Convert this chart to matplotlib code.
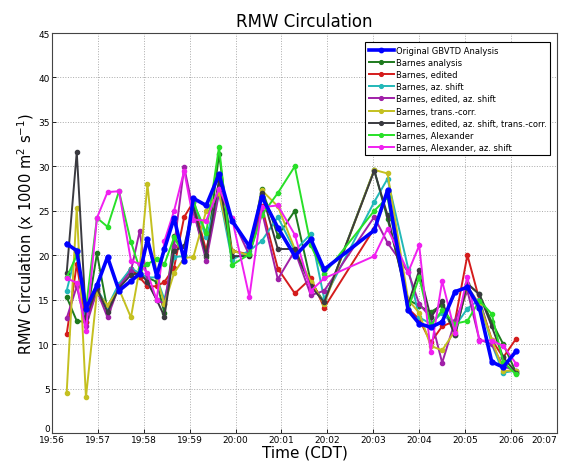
import matplotlib
matplotlib.use("Agg")
import matplotlib.pyplot as plt

# minutes after 19:56 CDT
times = [0.32, 0.54, 0.74, 0.98, 1.21, 1.46, 1.72, 1.91, 2.08, 2.28, 2.45, 2.66,
         2.88, 3.08, 3.36, 3.64, 3.92, 4.30, 4.57, 4.92, 5.29, 5.64, 5.93, 7.02,
         7.31, 7.76, 8.00, 8.25, 8.50, 8.78, 9.05, 9.31, 9.58, 9.83, 10.11]

original = [21.3, 20.5, 14.0, 16.6, 19.8, 16.0, 17.1, 17.9, 21.8, 17.7, 20.7, 24.2,
            19.4, 26.4, 25.6, 29.1, 23.9, 21.0, 26.6, 23.1, 19.9, 21.8, 18.4, 22.8,
            27.3, 13.8, 12.3, 11.9, 12.5, 15.9, 16.4, 14.1, 8.0, 7.4, 9.2]
barnes = [15.3, 12.6, 12.5, 20.2, 13.8, 16.5, 18.5, 17.5, 17.5, 17.0, 13.5, 22.2,
          20.0, 25.0, 19.8, 31.4, 20.5, 20.0, 27.5, 22.2, 25.0, 17.0, 14.7, 29.6,
          24.1, 15.0, 14.3, 13.6, 14.4, 11.0, 16.8, 15.6, 12.5, 10.0, 6.8]
edited = [11.1, 19.0, 12.5, 16.0, 14.0, 16.5, 18.5, 17.5, 16.5, 16.5, 17.0, 18.6,
          24.3, 26.0, 20.5, 27.5, 20.5, 20.1, 25.5, 18.5, 15.7, 17.4, 14.1, 23.0,
          27.0, 14.0, 12.8, 10.2, 12.0, 12.6, 20.0, 15.0, 10.5, 8.5, 10.6]
az_shift = [16.0, 20.6, 13.5, 16.2, 14.2, 16.8, 18.5, 18.0, 17.5, 17.5, 15.0, 19.8,
            19.9, 26.0, 22.0, 27.0, 19.5, 20.5, 21.6, 24.3, 20.5, 22.4, 15.1, 26.0,
            28.6, 18.5, 13.0, 12.3, 13.5, 12.0, 14.0, 15.0, 10.0, 6.8, 7.0]
edited_az = [12.9, 16.5, 12.0, 16.0, 13.0, 16.5, 18.2, 22.7, 17.0, 15.0, 14.5, 21.0,
             29.9, 25.0, 19.4, 27.0, 24.2, 20.0, 25.0, 17.3, 20.5, 15.5, 16.0, 24.3,
             21.4, 18.1, 14.5, 13.0, 7.9, 12.6, 16.0, 10.5, 10.0, 7.5, 7.0]
trans_corr = [4.5, 25.3, 4.0, 15.8, 14.4, 16.2, 13.0, 18.5, 28.0, 17.5, 14.5, 18.0,
              19.7, 19.8, 25.0, 27.0, 20.5, 20.0, 27.3, 25.5, 20.7, 17.0, 14.5, 29.6,
              29.2, 15.0, 13.5, 9.8, 9.3, 11.5, 16.5, 14.5, 10.5, 7.0, 7.0]
edited_az_tc = [18.0, 31.6, 13.0, 16.3, 13.6, 16.3, 17.8, 18.0, 17.0, 15.0, 13.1, 20.5,
                21.0, 25.5, 20.0, 28.5, 19.9, 19.9, 27.0, 20.7, 20.7, 16.5, 14.7, 29.5,
                24.5, 14.5, 18.3, 13.0, 14.8, 11.0, 16.8, 15.6, 12.0, 8.5, 6.8]
alexander = [17.5, 20.0, 14.0, 24.2, 23.2, 27.2, 21.5, 18.5, 19.0, 19.6, 19.0, 22.0,
             20.0, 26.0, 22.5, 32.2, 18.9, 20.1, 24.5, 27.0, 30.0, 21.1, 17.9, 25.0,
             26.5, 14.0, 17.5, 12.1, 13.8, 12.3, 12.6, 14.9, 13.4, 8.0, 6.6]
alexander_az = [17.4, 16.9, 11.5, 24.2, 27.1, 27.2, 19.4, 19.0, 18.0, 15.0, 21.6, 25.0,
                29.5, 24.0, 23.9, 27.5, 24.2, 15.3, 25.4, 25.6, 22.3, 16.0, 17.4, 19.9,
                23.0, 18.1, 21.1, 9.1, 17.1, 11.3, 17.6, 10.4, 10.4, 9.8, 7.8]

tick_labels = ["19:56", "19:57", "19:58", "19:59", "20:00", "20:01", "20:02",
               "20:03", "20:04", "20:05", "20:06", "20:07"]

series = [
    ("Original GBVTD Analysis", original, "#0000ff"),
    ("Barnes analysis", barnes, "#1e7a1e"),
    ("Barnes, edited", edited, "#d41c1c"),
    ("Barnes, az. shift", az_shift, "#22b8b8"),
    ("Barnes, edited, az. shift", edited_az, "#a020a8"),
    ("Barnes, trans.-corr.", trans_corr, "#c4c020"),
    ("Barnes, edited, az. shift, trans.-corr.", edited_az_tc, "#3a3a40"),
    ("Barnes, Alexander", alexander, "#28e028"),
    ("Barnes, Alexander, az. shift", alexander_az, "#f020f0"),
]

fig = plt.figure(figsize=(5.68, 4.64), dpi=100)
ax = fig.add_axes([0.0915, 0.0647, 0.889, 0.862])

for i, (label, values, color) in enumerate(series):
    is_orig = i == 0
    ax.plot(times, values, color=color, marker="o",
            markersize=3.5 if is_orig else 3,
            linewidth=2.6 if is_orig else 1.4,
            label=label, zorder=10 if is_orig else 3 + i * 0.1)

ax.set_xlim(0, 11)
ax.set_ylim(0, 45)
ax.set_xticks(range(12))
ax.set_xticklabels(tick_labels)
ax.get_xticklabels()[-1].set_horizontalalignment("right")
ax.set_yticks(range(0, 46, 5))
ax.get_yticklabels()[0].set_verticalalignment("bottom")
ax.tick_params(direction="in", labelsize=6.5, length=3, width=0.6, pad=1.5)
ax.grid(True, linestyle=":", color="#aaaaaa", linewidth=0.7)
for spine in ax.spines.values():
    spine.set_linewidth(0.8)
    spine.set_color("#444444")

ax.set_title("RMW Circulation", fontsize=12, pad=5)
ax.set_xlabel("Time (CDT)", fontsize=11, labelpad=0)
ax.set_ylabel("RMW Circulation (x 1000 m$^2$ s$^{-1}$)", fontsize=10.5, labelpad=2)

leg = ax.legend(loc="upper right", bbox_to_anchor=(0.995, 0.987), fontsize=6.0,
                fancybox=False, edgecolor="black", framealpha=1,
                handlelength=3.0, handletextpad=0.3, labelspacing=0.38,
                borderpad=0.4, markerscale=0.9)
leg.get_frame().set_linewidth(0.8)

fig.savefig("out.png", dpi=100)
